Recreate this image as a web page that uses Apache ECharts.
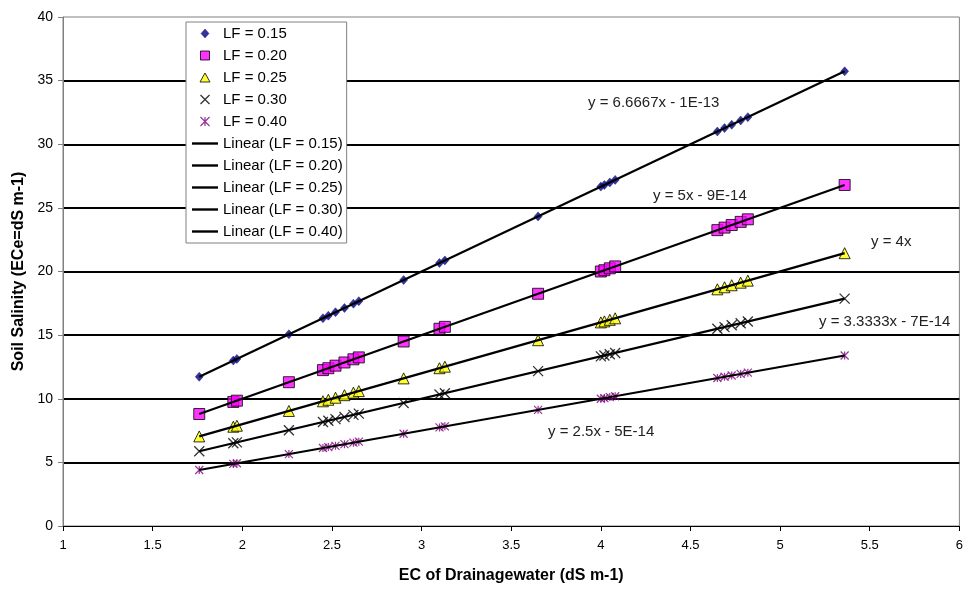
<!DOCTYPE html>
<html><head><meta charset="utf-8">
<script src="https://cdn.jsdelivr.net/npm/echarts@6/dist/echarts.min.js"></script>
<style>html,body{margin:0;padding:0;background:#fff}#c{width:966px;height:589px}</style>
</head><body><div id="c"></div>
<script>
// EC of drainage water (shared x values)
const drainEC = [1.76, 1.95, 1.97, 2.26, 2.45, 2.48, 2.52, 2.57, 2.62, 2.65, 2.90, 3.10, 3.13, 3.65, 4.00, 4.02, 4.05, 4.08, 4.65, 4.69, 4.73, 4.78, 4.82, 5.36];
// Soil salinity values per leaching fraction
const lf015 = [11.73, 13.00, 13.13, 15.07, 16.33, 16.53, 16.80, 17.13, 17.47, 17.67, 19.33, 20.67, 20.87, 24.33, 26.67, 26.80, 27.00, 27.20, 31.00, 31.27, 31.53, 31.87, 32.13, 35.73];
const lf020 = [8.80, 9.75, 9.85, 11.30, 12.25, 12.40, 12.60, 12.85, 13.10, 13.25, 14.50, 15.50, 15.65, 18.25, 20.00, 20.10, 20.25, 20.40, 23.25, 23.45, 23.65, 23.90, 24.10, 26.80];
const lf025 = [7.04, 7.80, 7.88, 9.04, 9.80, 9.92, 10.08, 10.28, 10.48, 10.60, 11.60, 12.40, 12.52, 14.60, 16.00, 16.08, 16.20, 16.32, 18.60, 18.76, 18.92, 19.12, 19.28, 21.44];
const lf030 = [5.87, 6.50, 6.57, 7.53, 8.17, 8.27, 8.40, 8.57, 8.73, 8.83, 9.67, 10.33, 10.43, 12.17, 13.33, 13.40, 13.50, 13.60, 15.50, 15.63, 15.77, 15.93, 16.07, 17.87];
const lf040 = [4.40, 4.88, 4.93, 5.65, 6.13, 6.20, 6.30, 6.43, 6.55, 6.63, 7.25, 7.75, 7.83, 9.13, 10.00, 10.05, 10.13, 10.20, 11.63, 11.73, 11.83, 11.95, 12.05, 13.40];
const seriesNames = ['LF = 0.15', 'LF = 0.20', 'LF = 0.25', 'LF = 0.30', 'LF = 0.40'];
const trendNames = ['Linear (LF = 0.15)', 'Linear (LF = 0.20)', 'Linear (LF = 0.25)', 'Linear (LF = 0.30)', 'Linear (LF = 0.40)'];
const equations = ['y = 6.6667x - 1E-13', 'y = 5x - 9E-14', 'y = 4x', 'y = 3.3333x - 7E-14', 'y = 2.5x - 5E-14'];

const allY = [lf015, lf020, lf025, lf030, lf040];
const DIAMOND_PATH = 'path://M4,0L8,4.5L4,9L0,4.5Z';
const RECT_PATH = 'path://M0,0L10,0L10,10L0,10Z';
const TRI_PATH = 'path://M5,0L10,9L0,9Z';
const X_PATH = 'path://M0,0L10,10M10,0L0,10';
const STAR_PATH = 'path://M0,0L10,10M10,0L0,10M5,0L5,10';
const LINE_ICON = 'path://M0,0L26,0L26,2.4L0,2.4Z';
const markerStyles = [
  {symbol: 'diamond', symbolSize: [8, 9], itemStyle: {color: '#000080', borderColor: '#000080', borderWidth: 0.5}},
  {symbol: 'rect', symbolSize: 11, itemStyle: {color: '#FF00FF', borderColor: '#000', borderWidth: 1}},
  {symbol: 'triangle', symbolSize: 11, itemStyle: {color: '#FFFF00', borderColor: '#000', borderWidth: 1}},
  {symbol: X_PATH, symbolSize: 10, itemStyle: {color: '#000', borderColor: '#000', borderWidth: 1.3}},
  {symbol: STAR_PATH, symbolSize: 8, itemStyle: {color: '#800080', borderColor: '#800080', borderWidth: 1.2}}
];
const legendIcons = [DIAMOND_PATH, RECT_PATH, TRI_PATH, X_PATH, STAR_PATH];
const eqPos = [[588, 104], [653, 197], [871, 243], [819, 323], [548, 433]];

const FONT = 'Liberation Sans, Arial, sans-serif';
const series = [];
allY.forEach((ys, i) => {
  series.push(Object.assign({
    name: seriesNames[i], type: 'scatter', z: 3,
    data: drainEC.map((x, j) => [x, ys[j]])
  }, markerStyles[i]));
});
allY.forEach((ys, i) => {
  const n = drainEC.length - 1;
  series.push({
    name: trendNames[i], type: 'line', z: 4, symbol: 'none', silent: true,
    lineStyle: {color: '#000', width: 2.2}, itemStyle: {color: '#000'},
    data: [[drainEC[0], ys[0]], [drainEC[n], ys[n]]]
  });
});

const legendData = seriesNames.map((n, i) => ({
  name: n, icon: legendIcons[i],
  itemStyle: {color: markerStyles[i].itemStyle.color, borderColor: markerStyles[i].itemStyle.borderColor, borderWidth: markerStyles[i].itemStyle.borderWidth}
})).concat(trendNames.map(n => ({name: n, icon: LINE_ICON, itemStyle: {color: '#000', borderWidth: 0}})));

const chart = echarts.init(document.getElementById('c'), null, {renderer: 'canvas'});
chart.setOption({
  animation: false,
  backgroundColor: '#fff',
  textStyle: {fontFamily: FONT},
  grid: {left: 63, right: 4, top: 17, bottom: 60, show: true, borderColor: '#808080', borderWidth: 1, containLabel: false},
  xAxis: {
    type: 'value', min: 1, max: 6, interval: 0.5,
    name: 'EC of Drainagewater (dS m-1)', nameLocation: 'middle', nameGap: 42,
    nameTextStyle: {fontFamily: FONT, fontSize: 16, fontWeight: 'bold', color: '#000'},
    axisLine: {show: true, lineStyle: {color: '#000', width: 1}},
    axisTick: {show: true, length: 5, lineStyle: {color: '#000'}},
    axisLabel: {fontFamily: FONT, fontSize: 13, color: '#000', margin: 13},
    splitLine: {show: false}
  },
  yAxis: {
    type: 'value', min: 0, max: 40, interval: 5,
    name: 'Soil Salinity (ECe=dS m-1)', nameLocation: 'middle', nameGap: 33,
    nameTextStyle: {fontFamily: FONT, fontSize: 16, fontWeight: 'bold', color: '#000'},
    axisLine: {show: true, lineStyle: {color: '#808080', width: 1}},
    axisTick: {show: true, length: 5, lineStyle: {color: '#808080'}},
    axisLabel: {fontFamily: FONT, fontSize: 14, color: '#000', margin: 10},
    splitLine: {show: true, showMinLine: false, showMaxLine: false, lineStyle: {color: '#000', width: 2}}
  },
  legend: {
    orient: 'vertical', left: 186, top: 22,
    padding: [4, 4, 4, 6], itemGap: 7, itemWidth: 26, itemHeight: 9,
    symbolKeepAspect: true,
    backgroundColor: '#fff', borderColor: '#808080', borderWidth: 1,
    textStyle: {fontFamily: FONT, fontSize: 15, color: '#000'},
    data: legendData
  },
  graphic: equations.map((t, i) => ({
    type: 'text', left: eqPos[i][0], top: eqPos[i][1] - 9, z: 10,
    style: {text: t, fontFamily: FONT, fontSize: 15, fill: '#222'}
  })),
  series: series
});
</script></body></html>
